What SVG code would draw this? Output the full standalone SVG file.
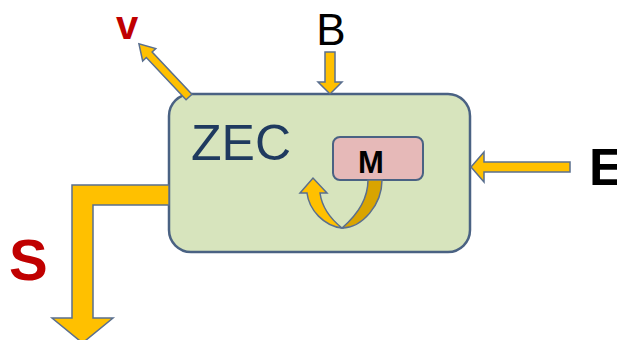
<svg xmlns="http://www.w3.org/2000/svg" width="617" height="340" viewBox="0 0 617 340">
<style>
.arr{fill:#FFC000;stroke:#5A6F8E;stroke-width:1.5;stroke-linejoin:miter}
.dark{fill:#D9A400;stroke:#5A6F8E;stroke-width:1.5}
.lbl{font-family:"Liberation Sans",Arial,sans-serif}
</style>
<rect width="617" height="340" fill="#FFFFFF"/>
<g id="ZEC">
<rect x="169" y="94" width="301" height="158" rx="22" fill="#D7E4BD" stroke="#4A6283" stroke-width="2.5"/>
<text class="lbl" x="191" y="160" font-size="50" fill="#1F3A5F">ZEC</text>
</g>
<g id="M">
<rect x="333" y="137" width="90" height="43" rx="7" fill="#E6B9B8" stroke="#4A6283" stroke-width="2"/>
<text class="lbl" x="371" y="173" font-size="31" font-weight="bold" text-anchor="middle" fill="#000000">M</text>
</g>
<g id="labels">
<text class="lbl" x="127" y="39" font-size="40" font-weight="bold" text-anchor="middle" fill="#C00000">v</text>
<text class="lbl" x="331" y="45" font-size="44" text-anchor="middle" fill="#000000">B</text>
<text class="lbl" x="589" y="185" font-size="52" font-weight="bold" fill="#000000">E</text>
<text class="lbl" x="9" y="280" font-size="58" font-weight="bold" fill="#C00000">S</text>
</g>
<g id="connectors">
<polygon class="arr" transform="translate(189,97) rotate(226.7)" points="0,-4 58,-4 58,-9 73,0 58,9 58,4 0,4"/>
<polygon class="arr" points="325,52 335,52 335,82 342,82 330,94 318,82 325,82"/>
<polygon class="arr" points="570,162 570,172 484,172 484,182 471,167 484,152 484,162"/>
<polygon class="arr" points="169,185 72,185 72,318 52,318 82.5,343 113,318 93,318 93,205 169,205"/>
<path class="dark" d="M368,180 L382,180 C382,205 362,228 342,228 C356,216 368,200 368,180 Z"/>
<path class="arr" d="M342,228 C324,226 309,210 307,193 L300,193 L313,178 L327,193 L320,193 C322,208 332,220 342,228 Z"/>
</g>
</svg>
